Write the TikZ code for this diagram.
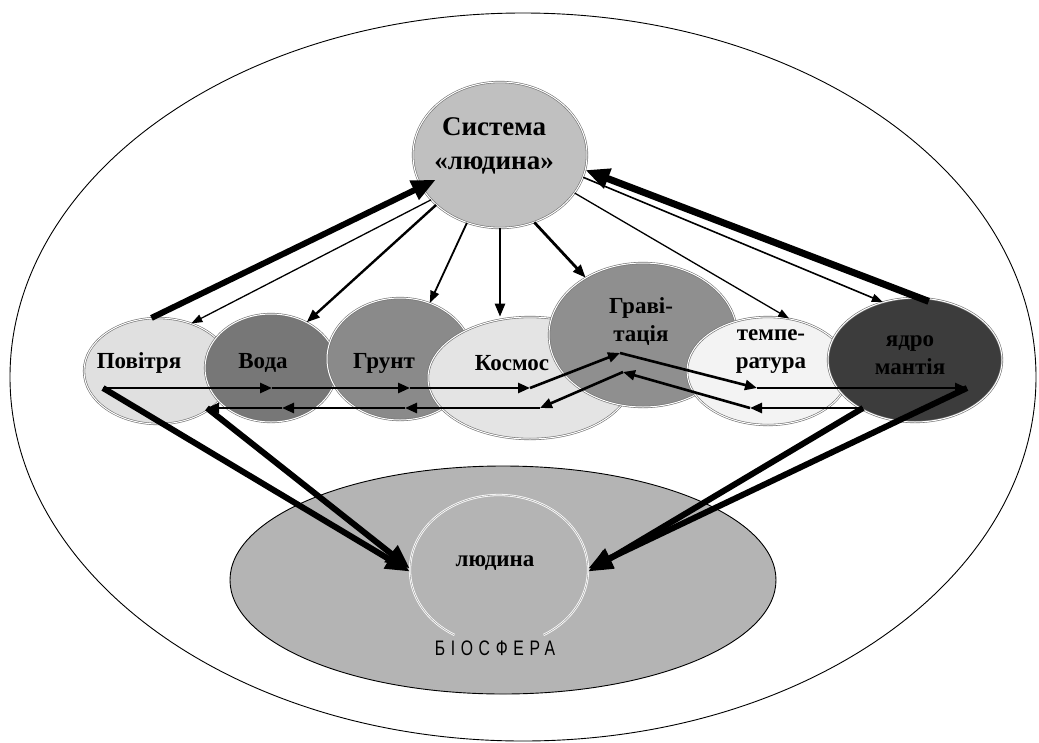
\documentclass[tikz,border=0pt]{standalone}
\usepackage{fontspec}
\setmainfont{Liberation Serif}
\newfontfamily\lblfont{Liberation Serif}
\newfontfamily\biofont[LetterSpace=27,FakeStretch=0.75]{Liberation Sans}
\usetikzlibrary{shapes.geometric,arrows.meta,calc}
\definecolor{cSys}{HTML}{C0C0C0}
\definecolor{cPov}{HTML}{E0E0E0}
\definecolor{cVoda}{HTML}{777777}
\definecolor{cGrunt}{HTML}{8A8A8A}
\definecolor{cKos}{HTML}{E4E4E4}
\definecolor{cGrav}{HTML}{8F8F8F}
\definecolor{cTemp}{HTML}{F3F3F3}
\definecolor{cYadro}{HTML}{3C3C3C}
\definecolor{cBio}{HTML}{B4B4B4}
\definecolor{cEdge}{HTML}{707070}
\tikzset{
  blob/.style={ellipse, draw=cEdge, line width=0.6pt, double=white, double distance=1pt, inner sep=0pt},
  lbl/.style={font=\lblfont\bfseries\fontsize{23}{28}\selectfont, align=center, inner sep=0pt},
  syslbl/.style={font=\lblfont\bfseries\fontsize{27}{34}\selectfont, align=center, inner sep=0pt},
  ring/.style={draw=white, line width=0.8pt, double=cEdge!60, double distance=0.6pt},
  bigarr/.style={line width=6pt, -{Triangle[length=24pt,width=20pt]}},
  medarr/.style={line width=2.4pt, -{Triangle[length=13pt,width=10pt]}},
  thinarr/.style={line width=1.3pt, -{Triangle[length=11pt,width=8pt]}},
  chainarr/.style={line width=2.6pt, -{Triangle[length=12pt,width=10pt]}},
}
\begin{document}
\begin{tikzpicture}[x=1pt,y=-1pt]
\useasboundingbox (0,0) rectangle (1039,742);
\fill[white] (0,0) rectangle (1039,742);
% outer and biosphere
\node[ellipse, draw=black, line width=0.9pt, minimum width=1026pt, minimum height=728pt, inner sep=0pt] (outer) at (523,377) {};
\node[ellipse, draw=black, line width=0.9pt, fill=cBio, minimum width=546pt, minimum height=228pt, inner sep=0pt] (bio) at (503,580) {};
\node[ellipse, minimum width=178pt, minimum height=150pt, inner sep=0pt] (lud) at (499,570) {};
\draw[ring] ([shift={(60:89 and 75)}]lud.center) arc[start angle=60, end angle=-240, x radius=89, y radius=75];
\node[font=\lblfont\bfseries\fontsize{23}{24}\selectfont, inner sep=0pt] (tlud) at (495,563) {людина};
\node[font=\biofont\fontsize{21}{22}\selectfont, inner sep=0pt] (tbio) at (495,648) {БІОСФЕРА};
% row ellipses
\node[blob, fill=cPov, minimum width=148pt, minimum height=106pt] (pov) at (158,371) {};
\node[blob, fill=cVoda, minimum width=132pt, minimum height=108pt] (voda) at (271,368) {};
\node[blob, fill=cGrunt, minimum width=146pt, minimum height=122pt] (grunt) at (400,359) {};
\node[blob, fill=cKos, minimum width=204pt, minimum height=122pt] (kos) at (530,378) {};
\node[blob, fill=cGrav, minimum width=188pt, minimum height=144pt] (grav) at (643,335) {};
\node[blob, fill=cTemp, minimum width=162pt, minimum height=108pt] (temp) at (768,371) {};
\node[blob, fill=cYadro, minimum width=174pt, minimum height=124pt] (yadro) at (915,360) {};
\node[blob, fill=cSys, minimum width=174pt, minimum height=146pt] (sys) at (500,155) {};
% labels
\node[syslbl] (tsys) at (494,146) {Система\\«людина»};
\node[lbl] (tpov) at (139,363) {Повітря};
\node[lbl] (tvoda) at (263,363) {Вода};
\node[lbl] (tgrunt) at (384,363) {Грунт};
\node[lbl] (tkos) at (512,363) {Космос};
\node[lbl] (tgrav) at (641,322) {Граві-\\тація};
\node[lbl] (ttemp) at (771,352) {темпе-\\ратура};
\node[lbl] (tyadro) at (910,355) {ядро\\мантія};
% arrows from/to system
\draw[bigarr, shorten >=-16pt] (pov.97) -- (sys.202);
\draw[thinarr] (sys.213) -- (pov.55);
\draw[medarr] (sys.218) -- (voda.52);
\draw[line width=1.8pt, -{Triangle[length=12pt,width=9pt]}] (sys.244) -- (grunt.62);
\draw[medarr] (sys.south) -- (sys.south |- kos.north);
\draw[medarr, line width=2.8pt] (sys.297) -- (grav.135);
\draw[thinarr] (sys.333) -- (temp.68);
\draw[thinarr, line width=1.6pt] (sys.345) -- (yadro.119);
\draw[bigarr, line width=7pt, shorten <=-10pt] (yadro.86) -- (sys.350);
% chains
\coordinate (u0) at (103,388);
\coordinate (u1) at (272,388);
\coordinate (u2) at (410,388);
\coordinate (u3) at (530,388);
\coordinate (u4) at (620,353);
\coordinate (u5) at (757,388);
\coordinate (u6) at (967,388);
\coordinate (w0) at (863,408);
\coordinate (w1) at (750,408);
\coordinate (w2) at (623,372);
\coordinate (w3) at (540,408);
\coordinate (w4) at (405,408);
\coordinate (w5) at (282,408);
\coordinate (w6) at (207,408);
\foreach \a/\b in {u0/u1,u1/u2,u2/u3,u3/u4,u4/u5,u5/u6,w0/w1,w1/w2,w2/w3,w3/w4,w4/w5,w5/w6}
  \draw[chainarr] (\a) -- (\b);
% to man
\draw[bigarr] (u0) -- (lud.181);
\draw[bigarr] (w6) -- (lud.179);
\draw[bigarr] (u6) -- (lud.1);
\draw[bigarr] (w0) -- (lud.359);
\end{tikzpicture}
\end{document}
